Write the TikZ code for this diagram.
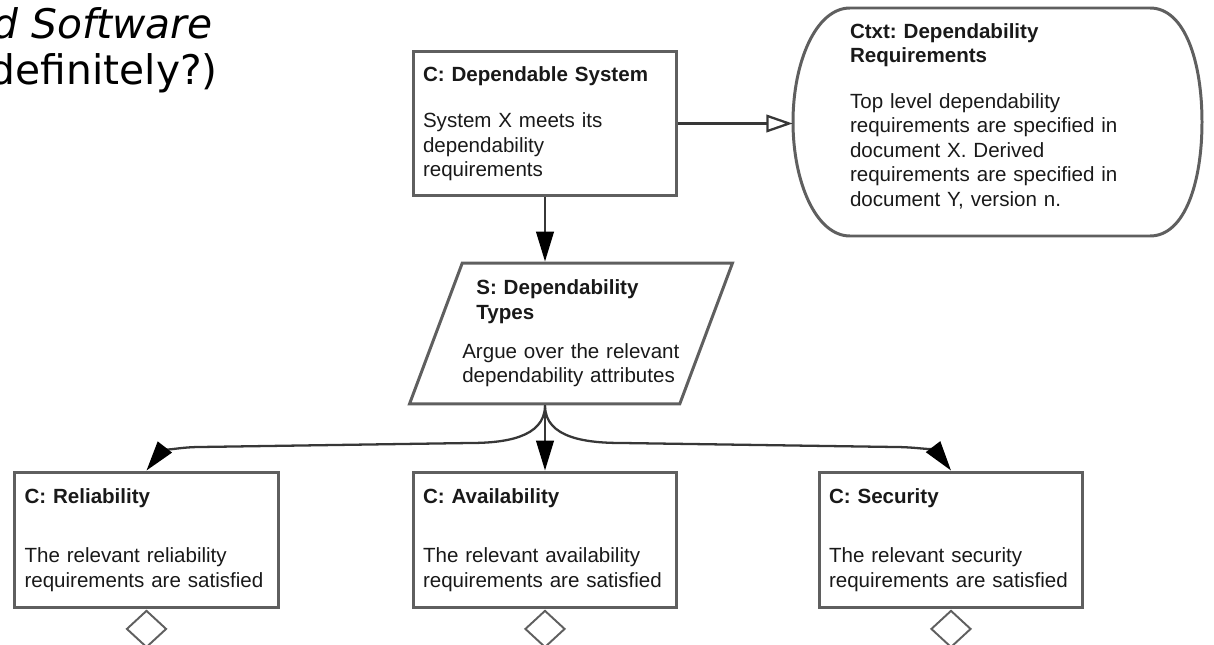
\documentclass[tikz,border=0pt]{standalone}
\usepackage{fontspec}
\setmainfont{Liberation Sans}
\newfontfamily\slidefont{DejaVu Sans}
\usetikzlibrary{arrows.meta,shapes.geometric}

\definecolor{boxgray}{RGB}{95,95,95}
\definecolor{linkgray}{RGB}{55,55,55}
\definecolor{inkgray}{RGB}{25,25,25}

\tikzset{
  gsntext/.style={text=inkgray, align=left, font={\frenchspacing\fontsize{11.7}{13.9}\selectfont}},
  boxline/.style={draw=boxgray, line width=1.7pt},
  goalbox/.style={gsntext, rectangle, boxline,
    inner xsep=0.2cm, minimum width=5.28cm, text width=4.88cm},
  stratbox/.style={gsntext, trapezium, boxline,
    trapezium left angle=66, trapezium right angle=114, trapezium stretches=true,
    inner xsep=0pt, minimum width=6.34cm, minimum height=2.82cm, text width=4.35cm},
  ctxbox/.style={gsntext, rectangle, inner xsep=0pt,
    minimum width=8.18cm, minimum height=4.3cm, text width=5.9cm},
  undev/.style={diamond, draw=boxgray, line width=1.1pt, minimum width=0.8cm,
    minimum height=0.74cm, inner sep=0pt, anchor=north},
  supp/.style={draw=linkgray, line width=1.3pt, -{Triangle[length=17pt,width=10pt,color=black]}},
  ctxlink/.style={draw=linkgray, line width=1.3pt, -{Triangle[open,length=15pt,width=10pt]}},
  slidetitle/.style={font={\slidefont\fontsize{23.2}{28}\selectfont}, text=black, inner sep=0pt}
}

\begin{document}
\begin{tikzpicture}[x=0.02cm, y=0.02cm]
\useasboundingbox (0,0) rectangle (1214,-645);

% slide title, cut off at the left
\node[slidetitle, anchor=base east] (ttl1) at (213,-39) {\itshape d Software};
\node[slidetitle, anchor=base east] (ttl2) at (218,-85) {definitely?)};

% goal and context
\node[goalbox, minimum height=2.9cm] (sys) at (545,-123.5)
  {\textbf{C: Dependable System}\\[12.7pt]System X meets its\\dependability\\requirements};
\node[ctxbox] (ctx) at (997.5,-116)
  {\textbf{Ctxt: Dependability}\\\textbf{Requirements}\\[12.2pt]Top level dependability\\requirements are specified in\\document X. Derived\\requirements are specified in\\document Y, version n.};
\draw[boxline] (850,-8) -- (1150,-8)
  .. controls (1185,-8) and (1202,-62) .. (1202,-122)
  .. controls (1202,-182) and (1185,-236) .. (1150,-236) -- (850,-236)
  .. controls (816,-236) and (793,-182) .. (793,-122)
  .. controls (793,-62) and (816,-8) .. cycle;

% strategy
\node[stratbox] (types) at (571,-333.5)
  {\hspace*{8pt}\textbf{S: Dependability}\\\hspace*{8pt}\textbf{Types}\\[8.2pt]Argue over the relevant\\dependability attributes};

% sub-goals
\node[goalbox, minimum height=2.72cm] (rel) at (146.5,-540)
  {\textbf{C: Reliability}\\[20pt]The relevant reliability\\requirements are satisfied};
\node[goalbox, minimum height=2.72cm] (avail) at (545,-540)
  {\textbf{C: Availability}\\[20pt]The relevant availability\\requirements are satisfied};
\node[goalbox, minimum height=2.72cm] (sec) at (951,-540)
  {\textbf{C: Security}\\[20pt]The relevant security\\requirements are satisfied};

\node[undev] (rel-u) at (rel.south) {};
\node[undev] (avail-u) at (avail.south) {};
\node[undev] (sec-u) at (sec.south) {};

% links
\draw[supp] (sys.south) -- (sys.south |- types.north);
\draw[ctxlink] (sys.east) -- (sys.east -| ctx.west);

\coordinate (fork) at (sys.south |- types.south);
\coordinate (jl) at (470,-443);
\coordinate (kl) at (200,-447);
\coordinate (jr) at (622,-443);
\coordinate (kr) at (895,-447);
\draw[supp] (fork) to[out=-90,in=0] (jl) -- (kl) to[out=180,in=52] (rel.north);
\draw[supp] (fork) -- (avail.north);
\draw[supp] (fork) to[out=-90,in=180] (jr) -- (kr) to[out=0,in=127] (sec.north);
\end{tikzpicture}
\end{document}
